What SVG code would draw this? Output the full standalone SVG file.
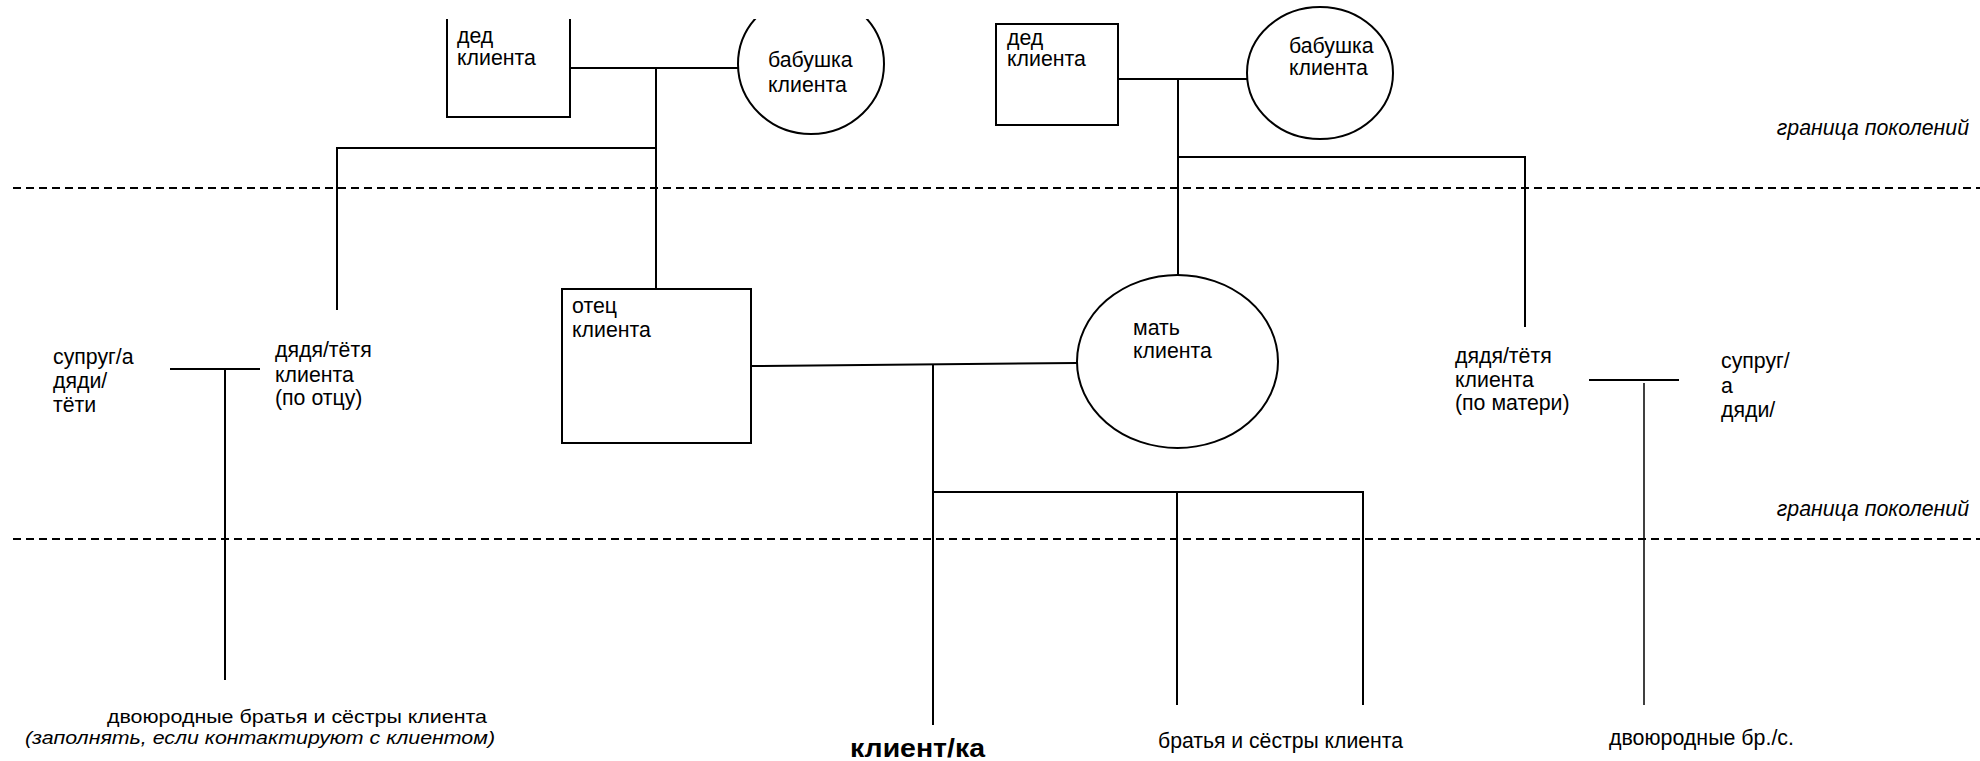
<svg xmlns="http://www.w3.org/2000/svg" width="1980" height="761" viewBox="0 0 1980 761">
<style>
text{font-family:"Liberation Sans",Arial,sans-serif;font-size:21.3px;fill:#000}
.it{font-style:italic}
.sm{font-size:18.5px}
.b{font-weight:bold;font-size:26px}
.n{fill:#fff;stroke:#000;stroke-width:2}
.c line,.c polyline{stroke:#000;stroke-width:2;fill:none}
.d{stroke:#000;stroke-width:2;stroke-dasharray:8 5}
</style>
<defs><clipPath id="top"><rect x="0" y="19" width="1980" height="742"/></clipPath></defs>
<rect width="1980" height="761" fill="#fff"/>
<g id="boundaries">
<line class="d" x1="13" y1="188" x2="1980" y2="188"/>
<line class="d" x1="13" y1="539" x2="1980" y2="539"/>
<text class="it" x="1969" y="135" text-anchor="end">граница поколений</text>
<text class="it" x="1969" y="516" text-anchor="end">граница поколений</text>
</g>
<g class="c" id="connectors">
<line x1="570" y1="68" x2="739" y2="68"/>
<line x1="656" y1="68" x2="656" y2="289"/>
<line x1="336" y1="148" x2="657" y2="148"/>
<line x1="337" y1="147" x2="337" y2="310"/>
<line x1="1118" y1="79" x2="1247" y2="79"/>
<line x1="1178" y1="79" x2="1178" y2="275"/>
<line x1="1177" y1="157" x2="1526" y2="157"/>
<line x1="1525" y1="156" x2="1525" y2="327"/>
<line x1="751" y1="366" x2="1077" y2="363"/>
<line x1="933" y1="365" x2="933" y2="725"/>
<line x1="932" y1="492" x2="1364" y2="492"/>
<line x1="1177" y1="492" x2="1177" y2="705"/>
<line x1="1363" y1="491" x2="1363" y2="705"/>
<line x1="170" y1="369" x2="260" y2="369"/>
<line x1="225" y1="369" x2="225" y2="680"/>
<line x1="1589" y1="380" x2="1679" y2="380"/>
<line x1="1644" y1="383" x2="1644" y2="705" style="stroke-width:1.5"/>
</g>
<g id="ded-otca" clip-path="url(#top)">
<polyline points="447,10 447,117 570,117 570,10" class="n"/>
<text x="457" y="43">дед</text>
<text x="457" y="65">клиента</text>
</g>
<g id="babushka-otca" clip-path="url(#top)">
<ellipse cx="811" cy="64" rx="73" ry="70" class="n"/>
<text x="768" y="67">бабушка</text>
<text x="768" y="92">клиента</text>
</g>
<g id="ded-materi">
<rect x="996" y="24" width="122" height="101" class="n"/>
<text x="1007" y="45">дед</text>
<text x="1007" y="66">клиента</text>
</g>
<g id="babushka-materi">
<ellipse cx="1320" cy="73" rx="73" ry="66" class="n"/>
<text x="1289" y="53">бабушка</text>
<text x="1289" y="75">клиента</text>
</g>
<g id="otec">
<rect x="562" y="289" width="189" height="154" class="n"/>
<text x="572" y="313">отец</text>
<text x="572" y="337">клиента</text>
</g>
<g id="mat">
<ellipse cx="1177.5" cy="361.5" rx="100.5" ry="86.5" class="n"/>
<text x="1133" y="335">мать</text>
<text x="1133" y="358">клиента</text>
</g>
<g id="suprug-otec">
<text x="53" y="364">супруг/а</text>
<text x="53" y="388">дяди/</text>
<text x="53" y="412">тёти</text>
</g>
<g id="dyadya-otec">
<text x="275" y="357">дядя/тётя</text>
<text x="275" y="382">клиента</text>
<text x="275" y="405">(по отцу)</text>
</g>
<g id="dyadya-mat">
<text x="1455" y="363">дядя/тётя</text>
<text x="1455" y="387">клиента</text>
<text x="1455" y="410">(по матери)</text>
</g>
<g id="suprug-mat">
<text x="1721" y="368">супруг/</text>
<text x="1721" y="393">а</text>
<text x="1721" y="417">дяди/</text>
</g>
<g id="cousins-otec">
<text class="sm" x="107" y="723" textLength="380" lengthAdjust="spacingAndGlyphs">двоюродные братья и сёстры клиента</text>
<text class="it sm" x="25" y="744" textLength="470" lengthAdjust="spacingAndGlyphs">(заполнять, если контактируют с клиентом)</text>
</g>
<g id="client">
<text class="b" x="850" y="757" textLength="135" lengthAdjust="spacingAndGlyphs">клиент/ка</text>
</g>
<g id="siblings">
<text x="1158" y="748" textLength="245" lengthAdjust="spacingAndGlyphs">братья и сёстры клиента</text>
</g>
<g id="cousins-mat">
<text x="1609" y="745" textLength="185" lengthAdjust="spacingAndGlyphs">двоюродные бр./с.</text>
</g>
</svg>
